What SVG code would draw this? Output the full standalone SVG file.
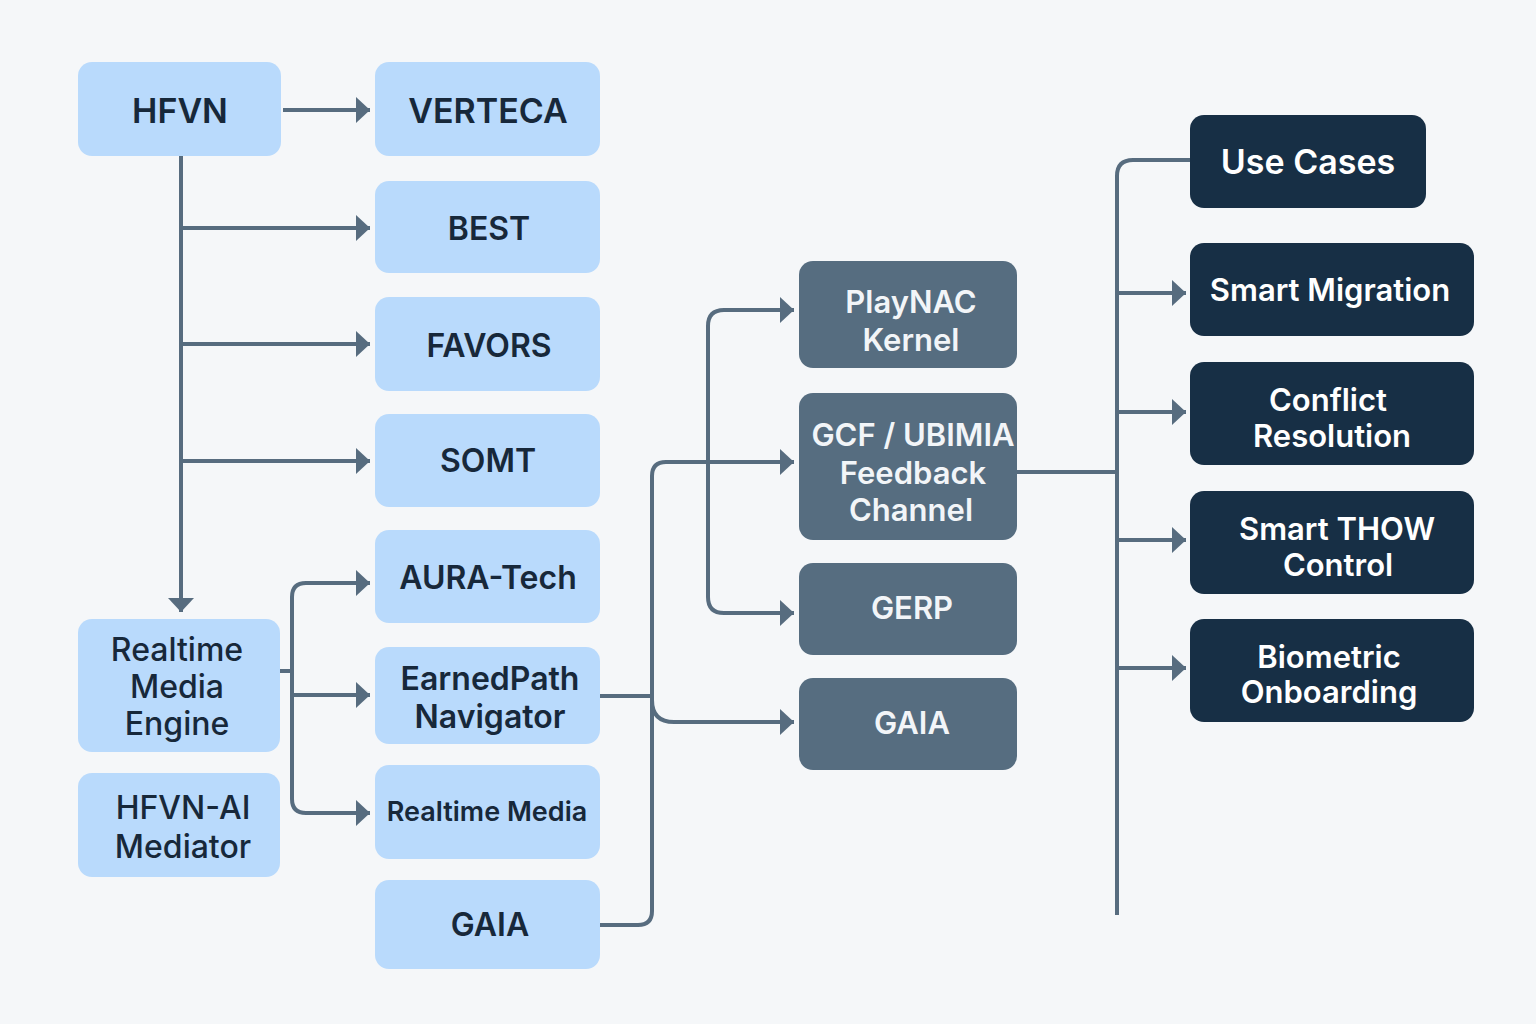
<svg xmlns="http://www.w3.org/2000/svg" width="1536" height="1024" viewBox="0 0 1536 1024">
<defs>
<marker id="ah" markerUnits="userSpaceOnUse" markerWidth="16" markerHeight="28" viewBox="0 0 16 28" refX="14" refY="13" orient="auto">
<path d="M0,0 L14,13 L0,26 Z" fill="#576c7f"/>
</marker>
<style>
.bg{fill:#f5f7f9}
.l rect{fill:#b9dafc}
.m rect{fill:#566d80}
.d rect{fill:#172f45}
text{font-family:Inter,"Noto Sans","Liberation Sans",sans-serif;text-anchor:middle;dominant-baseline:central}
.l text{fill:#17283a;font-weight:600;font-size:32px}
.m text{fill:#f2f5f8;font-weight:600;font-size:31px}
.d text{fill:#ffffff;font-weight:600;font-size:31px}
.c path{fill:none;stroke:#576c7f;stroke-width:4}
.c .a{marker-end:url(#ah)}
</style>
</defs>
<rect class="bg" x="0" y="0" width="1536" height="1024"/>
<g class="c">
<path class="a" d="M283,110 H370"/>
<path class="a" d="M181,156 V612"/>
<path class="a" d="M181,228 H370"/>
<path class="a" d="M181,344 H370"/>
<path class="a" d="M181,461 H370"/>
<path d="M280,671 H292"/>
<path class="a" d="M292,700 V597 Q292,583 306,583 H370"/>
<path class="a" d="M292,690 V799 Q292,813 306,813 H370"/>
<path class="a" d="M292,695 H370"/>
<path d="M600,696 H652"/>
<path class="a" d="M600,925 H638 Q652,925 652,911 V476 Q652,462 666,462 H794"/>
<path class="a" d="M652,700 Q652,722 674,722 H794"/>
<path class="a" d="M708,470 V326 Q708,310 724,310 H794"/>
<path class="a" d="M708,460 V597 Q708,613 724,613 H794"/>
<path d="M1017,472 H1117"/>
<path d="M1190,160 H1133 Q1117,160 1117,176 V915"/>
<path class="a" d="M1117,293 H1186"/>
<path class="a" d="M1117,412 H1186"/>
<path class="a" d="M1117,540 H1186"/>
<path class="a" d="M1117,668 H1186"/>
</g>
<g class="l" id="hfvn"><rect x="78" y="62" width="203" height="94" rx="14"/><text x="180" y="110" style="font-size:34px">HFVN</text></g>
<g class="l" id="verteca"><rect x="375" y="62" width="225" height="94" rx="14"/><text x="488" y="110" style="font-size:34px">VERTECA</text></g>
<g class="l" id="best"><rect x="375" y="181" width="225" height="92" rx="14"/><text x="489" y="228">BEST</text></g>
<g class="l" id="favors"><rect x="375" y="297" width="225" height="94" rx="14"/><text x="489" y="345">FAVORS</text></g>
<g class="l" id="somt"><rect x="375" y="414" width="225" height="93" rx="14"/><text x="488" y="460">SOMT</text></g>
<g class="l" id="aura"><rect x="375" y="530" width="225" height="93" rx="14"/><text x="488" y="577">AURA-Tech</text></g>
<g class="l" id="earned"><rect x="375" y="647" width="225" height="97" rx="14"/><text x="490" y="678">EarnedPath</text><text x="490" y="716">Navigator</text></g>
<g class="l" id="rtmedia"><rect x="375" y="765" width="225" height="94" rx="14"/><text x="487" y="811" style="font-size:27px">Realtime Media</text></g>
<g class="l" id="gaia1"><rect x="375" y="880" width="225" height="89" rx="14"/><text x="490" y="924">GAIA</text></g>
<g class="l" id="rtme"><rect x="78" y="619" width="202" height="133" rx="14"/><text x="177" y="649" style="font-weight:500">Realtime</text><text x="177" y="686" style="font-weight:500">Media</text><text x="177" y="723" style="font-weight:500">Engine</text></g>
<g class="l" id="hfvnai"><rect x="78" y="773" width="202" height="104" rx="14"/><text x="183" y="807" style="font-weight:500">HFVN-AI</text><text x="183" y="846" style="font-weight:500">Mediator</text></g>
<g class="m" id="playnac"><rect x="799" y="261" width="218" height="107" rx="14"/><text x="911" y="301">PlayNAC</text><text x="911" y="339">Kernel</text></g>
<g class="m" id="gcf"><rect x="799" y="393" width="218" height="147" rx="14"/><text x="913" y="434">GCF / UBIMIA</text><text x="913" y="472">Feedback</text><text x="911" y="509">Channel</text></g>
<g class="m" id="gerp"><rect x="799" y="563" width="218" height="92" rx="14"/><text x="912" y="607">GERP</text></g>
<g class="m" id="gaia2"><rect x="799" y="678" width="218" height="92" rx="14"/><text x="912" y="722">GAIA</text></g>
<g class="d" id="usecases"><rect x="1190" y="115" width="236" height="93" rx="14"/><text x="1308" y="161" style="font-size:34px">Use Cases</text></g>
<g class="d" id="smartmig"><rect x="1190" y="243" width="284" height="93" rx="14"/><text x="1330" y="289">Smart Migration</text></g>
<g class="d" id="conflict"><rect x="1190" y="362" width="284" height="103" rx="14"/><text x="1328" y="399">Conflict</text><text x="1332" y="435">Resolution</text></g>
<g class="d" id="thow"><rect x="1190" y="491" width="284" height="103" rx="14"/><text x="1337" y="528">Smart THOW</text><text x="1338" y="564">Control</text></g>
<g class="d" id="bio"><rect x="1190" y="619" width="284" height="103" rx="14"/><text x="1329" y="656">Biometric</text><text x="1329" y="691">Onboarding</text></g>
</svg>
